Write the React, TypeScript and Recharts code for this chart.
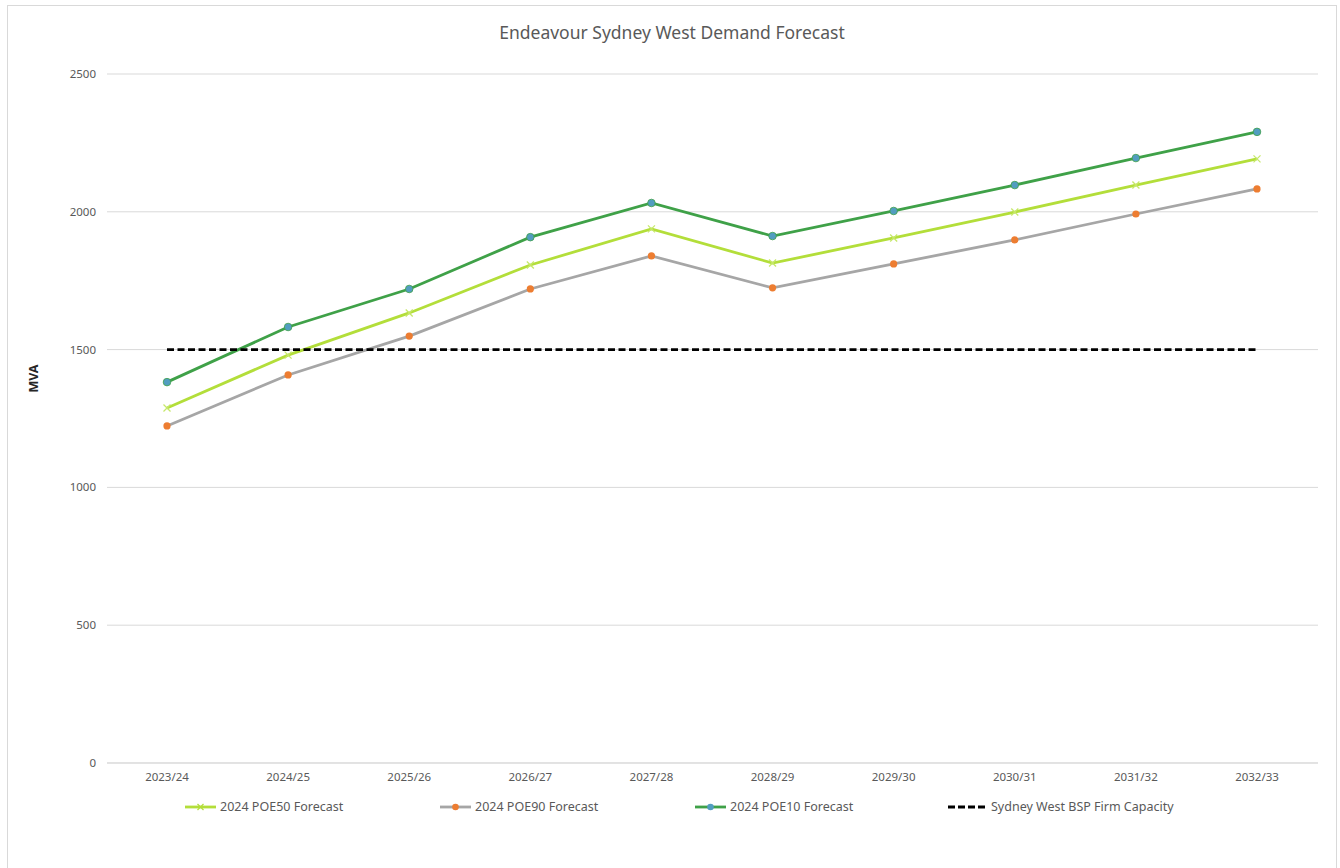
import React from 'react';
import { LineChart, Line, XAxis, YAxis, CartesianGrid, Legend } from 'recharts';

const categories = ['2023/24', '2024/25', '2025/26', '2026/27', '2027/28', '2028/29', '2029/30', '2030/31', '2031/32', '2032/33'];
const poe50 = [1288, 1480, 1633, 1807, 1938, 1814, 1905, 1999, 2097, 2192];
const poe90 = [1223, 1408, 1549, 1720, 1840, 1724, 1811, 1898, 1992, 2083];
const poe10 = [1382, 1582, 1720, 1908, 2032, 1912, 2003, 2097, 2195, 2290];
const firmCapacity = [1500, 1500, 1500, 1500, 1500, 1500, 1500, 1500, 1500, 1500];
const yTicks = [0, 500, 1000, 1500, 2000, 2500];

const seriesNames = {
  poe50: '2024 POE50 Forecast',
  poe90: '2024 POE90 Forecast',
  poe10: '2024 POE10 Forecast',
  cap: 'Sydney West BSP Firm Capacity',
};

const data = categories.map((c, i) => ({
  cat: c,
  poe50: poe50[i],
  poe90: poe90[i],
  poe10: poe10[i],
  cap: firmCapacity[i],
}));

const C50 = '#B3DE3A';
const C90 = '#A6A6A6';
const C90M = '#ED7D31';
const C10 = '#3FA148';
const C10M = '#529DC0';
const FONT = '"Noto Sans", "Open Sans", sans-serif';
const TXT = '#595959';

const XDot = (props: any) => {
  const { cx, cy } = props;
  if (cx == null || cy == null) return null;
  const s = 3.5;
  return (
    <g>
      <line x1={cx - s} y1={cy - s} x2={cx + s} y2={cy + s} stroke="#C6E86A" strokeWidth={1.3} />
      <line x1={cx - s} y1={cy + s} x2={cx + s} y2={cy - s} stroke="#C6E86A" strokeWidth={1.3} />
    </g>
  );
};

const Dot90 = (props: any) => {
  const { cx, cy } = props;
  if (cx == null || cy == null) return null;
  return <circle cx={cx} cy={cy} r={3.6} fill={C90M} stroke="none" />;
};

const Dot10 = (props: any) => {
  const { cx, cy } = props;
  if (cx == null || cy == null) return null;
  return <circle cx={cx} cy={cy} r={3.8} fill={C10M} stroke={C10} strokeWidth={0.8} />;
};

const LegendIcon = ({ kind }: { kind: string }) => {
  const w = kind === 'cap' ? 37 : 31;
  return (
    <svg width={w} height={12} style={{ display: 'block' }}>
      {kind === 'cap' ? (
        <line x1={0} y1={6} x2={w} y2={6} stroke="#000" strokeWidth={2.8} strokeDasharray="7 3" />
      ) : (
        <line x1={0} y1={6} x2={w} y2={6} stroke={kind === 'poe50' ? C50 : kind === 'poe90' ? C90 : C10} strokeWidth={2.8} />
      )}
      {kind === 'poe50' && (
        <g>
          <line x1={12.5} y1={3} x2={18.5} y2={9} stroke={C50} strokeWidth={1.3} />
          <line x1={12.5} y1={9} x2={18.5} y2={3} stroke={C50} strokeWidth={1.3} />
        </g>
      )}
      {kind === 'poe90' && <circle cx={15.5} cy={6} r={3.3} fill={C90M} />}
      {kind === 'poe10' && <circle cx={15.5} cy={6} r={3.3} fill={C10M} />}
    </svg>
  );
};

const legendOrder = ['poe50', 'poe90', 'poe10', 'cap'];
const legendLeft = [177, 432, 687, 940];

const CustomLegend = () => (
  <div style={{ position: 'relative', height: 75, width: 1328 }}>
    {legendOrder.map((k, i) => (
      <div
        key={k}
        style={{
          position: 'absolute',
          left: legendLeft[i],
          top: 5,
          display: 'flex',
          alignItems: 'center',
          gap: k === 'cap' ? 6 : 4,
          fontFamily: FONT,
          fontSize: 12.5,
          color: TXT,
          whiteSpace: 'nowrap',
        }}
      >
        <LegendIcon kind={k} />
        <span>{(seriesNames as any)[k]}</span>
      </div>
    ))}
  </div>
);

export default function App() {
  return (
    <div
      style={{
        position: 'absolute',
        left: 7,
        top: 5,
        width: 1328,
        height: 880,
        border: '1px solid #d9d9d9',
        background: '#fff',
      }}
    >
      <div
        style={{
          position: 'absolute',
          left: 0,
          top: 14,
          width: 1328,
          textAlign: 'center',
          fontFamily: FONT,
          fontSize: 17.5,
          color: TXT,
        }}
      >
        Endeavour Sydney West Demand Forecast
      </div>
      <LineChart
        width={1328}
        height={862}
        data={data}
        margin={{ top: 68, right: 18, left: 0, bottom: 0 }}
      >
        <CartesianGrid horizontal vertical={false} stroke="#d9d9d9" strokeWidth={1} />
        <XAxis
          dataKey="cat"
          height={30}
          padding={{ left: 60, right: 61 }}
          tickLine={false}
          tickSize={0}
          tickMargin={10}
          axisLine={{ stroke: '#d9d9d9' }}
          tick={{ fill: TXT, fontSize: 11.5, fontFamily: FONT }}
          interval={0}
        />
        <YAxis
          width={99}
          domain={[0, 2500]}
          ticks={yTicks}
          axisLine={false}
          tickLine={false}
          tickSize={0}
          tickMargin={11}
          tick={{ fill: TXT, fontSize: 11.5, fontFamily: FONT }}
          label={(p: any) => {
            const vb = p.viewBox || { x: 0, y: 68, width: 99, height: 689 };
            const x = vb.x + 25;
            const y = vb.y + vb.height / 2 - 40;
            return (
              <text
                x={x}
                y={y}
                transform={`rotate(-90, ${x}, ${y})`}
                textAnchor="middle"
                dominantBaseline="central"
                fontFamily={FONT}
                fontSize={12.5}
                fontWeight="bold"
                fill="#262626"
              >
                MVA
              </text>
            );
          }}
        />
        <Legend verticalAlign="bottom" height={75} wrapperStyle={{ left: 0, width: 1328 }} content={() => <CustomLegend />} />
        <Line
          dataKey="poe50"
          name={seriesNames.poe50}
          stroke={C50}
          strokeWidth={2.8}
          dot={<XDot />}
          activeDot={false}
          isAnimationActive={false}
        />
        <Line
          dataKey="poe90"
          name={seriesNames.poe90}
          stroke={C90}
          strokeWidth={2.8}
          dot={<Dot90 />}
          activeDot={false}
          isAnimationActive={false}
        />
        <Line
          dataKey="poe10"
          name={seriesNames.poe10}
          stroke={C10}
          strokeWidth={2.8}
          dot={<Dot10 />}
          activeDot={false}
          isAnimationActive={false}
        />
        <Line
          dataKey="cap"
          name={seriesNames.cap}
          stroke="#000"
          strokeWidth={2.6}
          strokeDasharray="7 3.5"
          dot={false}
          activeDot={false}
          isAnimationActive={false}
        />
      </LineChart>
    </div>
  );
}
